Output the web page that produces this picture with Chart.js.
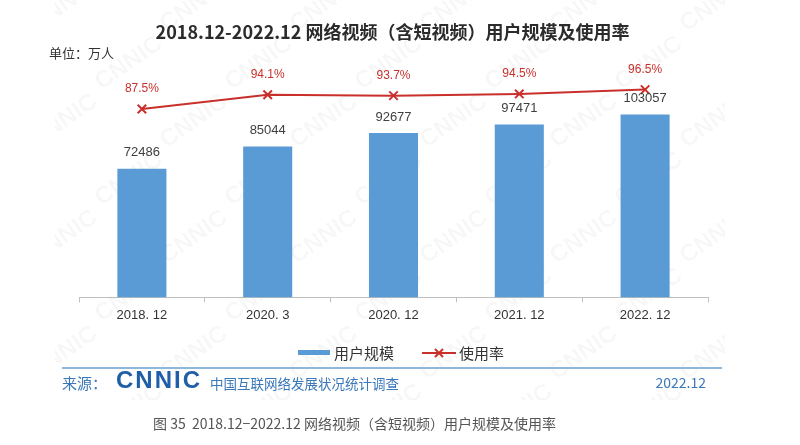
<!DOCTYPE html>
<html>
<head>
<meta charset="utf-8">
<script src="https://cdn.jsdelivr.net/npm/chart.js@4/dist/chart.umd.min.js"></script>
<style>
  body { margin: 0; background: #fff; }
  #wrap { position: relative; width: 800px; height: 445px; overflow: hidden; font-family: "Liberation Sans", "Noto Sans CJK SC", sans-serif; }
  #wm { position: absolute; left: 55px; top: 0; width: 670px; height: 400px; overflow: hidden; }
  #wm span { position: absolute; font: bold 24px "Liberation Sans", sans-serif; color: rgba(0,0,0,0.04); transform: rotate(-35deg); }
  canvas { position: absolute; left: 0; top: 0; }
  .txt { position: absolute; white-space: nowrap; }
  #title { left: 0; width: 785px; top: 18px; text-align: center; font: bold 18px "Noto Sans CJK SC", sans-serif; color: #2b2b2b; }
  #unit { left: 49px; top: 43px; font: 13px "Noto Sans CJK SC", sans-serif; color: #333; }
  #legend { left: 298px; top: 342px; font: 15px "Noto Sans CJK SC", sans-serif; color: #333; display: flex; align-items: center; }
  #legend .bar { display: inline-block; width: 32px; height: 5px; background: #5b9bd5; margin-right: 4px; }
  #legend svg { margin-left: 28px; margin-right: 3px; }
  #rule { position: absolute; left: 62px; width: 660px; top: 367px; height: 0; border-top: 2px solid #8db8dd; }
  #src { left: 62px; top: 372px; font: 15px "Noto Sans CJK SC", sans-serif; color: #3a78b8; }
  #logo { left: 116px; top: 366px; font: 900 24px "Liberation Sans", sans-serif; color: #1f5fa8; letter-spacing: 2px; }
  #org { left: 210px; top: 373px; font: 13.5px "Noto Sans CJK SC", sans-serif; color: #3a78b8; }
  #date { right: 94px; top: 372px; font: 14px "Noto Sans CJK SC", sans-serif; color: #3a78b8; }
  #caption { left: 153px; top: 413px; font: 14px "Noto Sans CJK SC", sans-serif; color: #555; }
</style>
</head>
<body>
<div id="wrap">
  <div id="wm"></div>
  <canvas id="chart" width="800" height="445"></canvas>
  <div class="txt" id="title">2018.12-2022.12 网络视频（含短视频）用户规模及使用率</div>
  <div class="txt" id="unit">单位：万人</div>
  <div class="txt" id="legend">
    <span class="bar"></span><span>用户规模</span>
    <svg width="34" height="12"><line x1="0" y1="6" x2="34" y2="6" stroke="#c9302c" stroke-width="2"/><line x1="13" y1="2" x2="21" y2="10" stroke="#c9302c" stroke-width="2"/><line x1="21" y1="2" x2="13" y2="10" stroke="#c9302c" stroke-width="2"/></svg><span>使用率</span>
  </div>
  <div id="rule"></div>
  <div class="txt" id="src">来源：</div>
  <div class="txt" id="logo">CNNIC</div>
  <div class="txt" id="org">中国互联网络发展状况统计调查</div>
  <div class="txt" id="date">2022.12</div>
  <div class="txt" id="caption">图 35&nbsp; 2018.12−2022.12 网络视频（含短视频）用户规模及使用率</div>
</div>
<script>
// dades del gràfic
const periodes = ['2018. 12', '2020. 3', '2020. 12', '2021. 12', '2022. 12'];
const usuaris = [72486, 85044, 92677, 97471, 103057];
const taxaUs = [87.5, 94.1, 93.7, 94.5, 96.5];

// marca d'aigua CNNIC
const wm = document.getElementById('wm');
for (let r = 0; r < 8; r++) {
  for (let c = 0; c < 6; c++) {
    const s = document.createElement('span');
    s.textContent = 'CNNIC';
    s.style.left = (c * 130 + (r % 2) * 65 - 30) + 'px';
    s.style.top = (r * 58 - 10) + 'px';
    wm.appendChild(s);
  }
}

// etiquetes damunt de barres i punts
const etiquetes = {
  id: 'etiquetes',
  afterDatasetsDraw(chart) {
    const ctx = chart.ctx;
    ctx.save();
    ctx.textAlign = 'center';
    ctx.textBaseline = 'middle';
    chart.getDatasetMeta(0).data.forEach((el, i) => {
      ctx.font = '13px "Liberation Sans", sans-serif';
      ctx.fillStyle = '#404040';
      ctx.fillText(usuaris[i], el.x, el.y - 16);
    });
    chart.getDatasetMeta(1).data.forEach((el, i) => {
      ctx.font = '12px "Liberation Sans", sans-serif';
      ctx.fillStyle = '#c9302c';
      ctx.fillText(taxaUs[i].toFixed(1) + '%', el.x, el.y - 20);
    });
    ctx.restore();
  }
};

new Chart(document.getElementById('chart'), {
  data: {
    labels: periodes,
    datasets: [
      {
        type: 'bar',
        label: '用户规模',
        data: usuaris,
        backgroundColor: '#5b9bd5',
        barPercentage: 0.39,
        categoryPercentage: 1,
        yAxisID: 'y',
        order: 2
      },
      {
        type: 'line',
        label: '使用率',
        data: taxaUs,
        borderColor: '#c9302c',
        backgroundColor: '#c9302c',
        borderWidth: 2,
        pointStyle: 'crossRot',
        pointRadius: 6,
        pointBorderWidth: 2,
        yAxisID: 'y1',
        order: 1
      }
    ]
  },
  options: {
    responsive: false,
    animation: false,
    layout: { padding: { left: 79, right: 92, top: 81, bottom: 117 } },
    plugins: { legend: { display: false }, tooltip: { enabled: false } },
    scales: {
      x: {
        grid: { offset: true, drawOnChartArea: false, drawTicks: true, tickLength: 5, color: '#bfbfbf' },
        border: { color: '#bfbfbf', width: 1 },
        ticks: { padding: 5, color: '#333', font: { size: 13, family: '"Liberation Sans", sans-serif' } }
      },
      y: { display: false, min: 0, max: 122000 },
      y1: { display: false, min: 0, max: 100.5 }
    }
  },
  plugins: [etiquetes]
});
</script>
</body>
</html>
